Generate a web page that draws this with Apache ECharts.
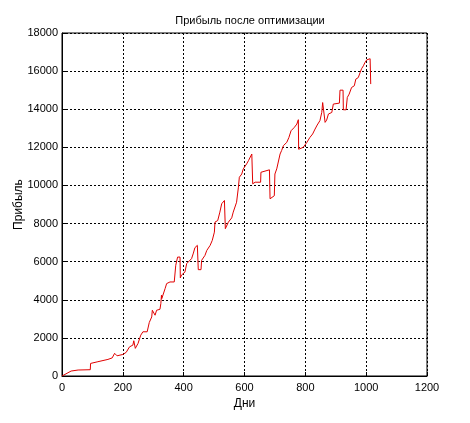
<!DOCTYPE html>
<html>
<head>
<meta charset="utf-8">
<script src="https://cdn.jsdelivr.net/npm/echarts@6/dist/echarts.min.js"></script>
<style>html,body{margin:0;padding:0;background:#fff}#c{width:470px;height:423px}</style>
</head>
<body>
<div id="c"></div>
<script>
const days = [0,3,30,53,93,94,118,151,165,173,181,200,211,222,233,236,241,250,256,259,266,280,287,295,297,306,311,322,325,327,328,333,339,344,355,369,374,380,388,389,393,397,404,410,415,426,432,437,445,446,448,457,459,470,476,487,494,501,503,512,519,525,534,536,537,541,547,558,563,574,580,583,591,596,607,613,624,627,635,653,654,682,684,689,698,700,706,717,722,728,739,746,753,764,772,777,778,782,793,805,815,824,832,839,848,854,857,862,865,870,876,887,892,897,912,914,924,925,934,938,944,952,961,966,974,980,985,991,996,1002,1013,1015];
const profit = [0,90,260,314,330,660,750,870,950,1190,1060,1130,1240,1530,1620,1850,1450,1710,2005,2145,2320,2320,2810,3100,3450,3190,3450,3500,3800,4240,4060,4150,4590,4850,4935,4935,5810,6240,6240,5150,5300,5375,5450,5900,6000,6160,6450,6735,6855,6860,5580,5580,6070,6330,6590,6855,7115,7550,8075,8160,8600,9040,9210,9250,7730,7810,8075,8300,8600,9120,9910,10430,10600,10870,11130,11300,11650,10085,10170,10170,10690,10820,9300,9385,9460,10600,10870,11650,11830,12090,12260,12520,12870,13050,13220,13450,11900,11880,12000,12260,12520,12700,12960,13170,13400,13830,14350,14440,13310,13430,13750,13830,14270,14320,14320,15000,15000,13970,13970,14620,14790,15140,15230,15580,15660,15920,16130,16280,16450,16590,16650,15320];
const xTicks = [0,200,400,600,800,1000,1200];
const yTicks = [0,2000,4000,6000,8000,10000,12000,14000,16000,18000];
const titleText = 'Прибыль после оптимизации';
const xName = 'Дни';
const yName = 'Прибыль';

const chart = echarts.init(document.getElementById('c'), null, {renderer:'canvas'});
const font = 'Liberation Sans, Arial, sans-serif';
chart.setOption({
  animation:false,
  backgroundColor:'#fff',
  title:{text:titleText,left:245,top:10,textAlign:'center',textStyle:{fontFamily:font,fontSize:11,fontWeight:'normal',color:'#000'}},
  grid:{left:62,right:43,top:33,bottom:47,containLabel:false,outerBoundsMode:'none',show:true,borderColor:'#000',borderWidth:1,backgroundColor:'transparent'},
  xAxis:{type:'value',min:xTicks[0],max:xTicks[xTicks.length-1],interval:200,
    name:xName,nameLocation:'middle',nameGap:22,nameMoveOverlap:false,nameTextStyle:{fontFamily:font,fontSize:12,color:'#000'},
    axisLine:{show:true,lineStyle:{color:'#000',width:1}},
    axisTick:{show:true,inside:true,length:4,lineStyle:{color:'#000'}},
    axisLabel:{fontFamily:font,fontSize:11,color:'#000',margin:6,formatter:v=>String(v)},
    splitLine:{show:true,lineStyle:{color:'#000',type:[2,2],width:1}}},
  yAxis:{type:'value',min:yTicks[0],max:yTicks[yTicks.length-1],interval:2000,
    name:yName,nameLocation:'middle',nameGap:37,nameMoveOverlap:false,nameRotate:90,nameTextStyle:{fontFamily:font,fontSize:12,color:'#000'},
    axisLine:{show:true,lineStyle:{color:'#000',width:1}},
    axisTick:{show:true,inside:true,length:4,lineStyle:{color:'#000'}},
    axisLabel:{fontFamily:font,fontSize:11,color:'#000',margin:4,formatter:v=>String(v)},
    splitLine:{show:true,lineStyle:{color:'#000',type:[2,2],width:1}}},
  series:[{type:'line',data:days.map((d,i)=>[d,profit[i]]),showSymbol:false,symbol:'none',
    lineStyle:{color:'#e00000',width:1},z:5}]
});
</script>
</body>
</html>
